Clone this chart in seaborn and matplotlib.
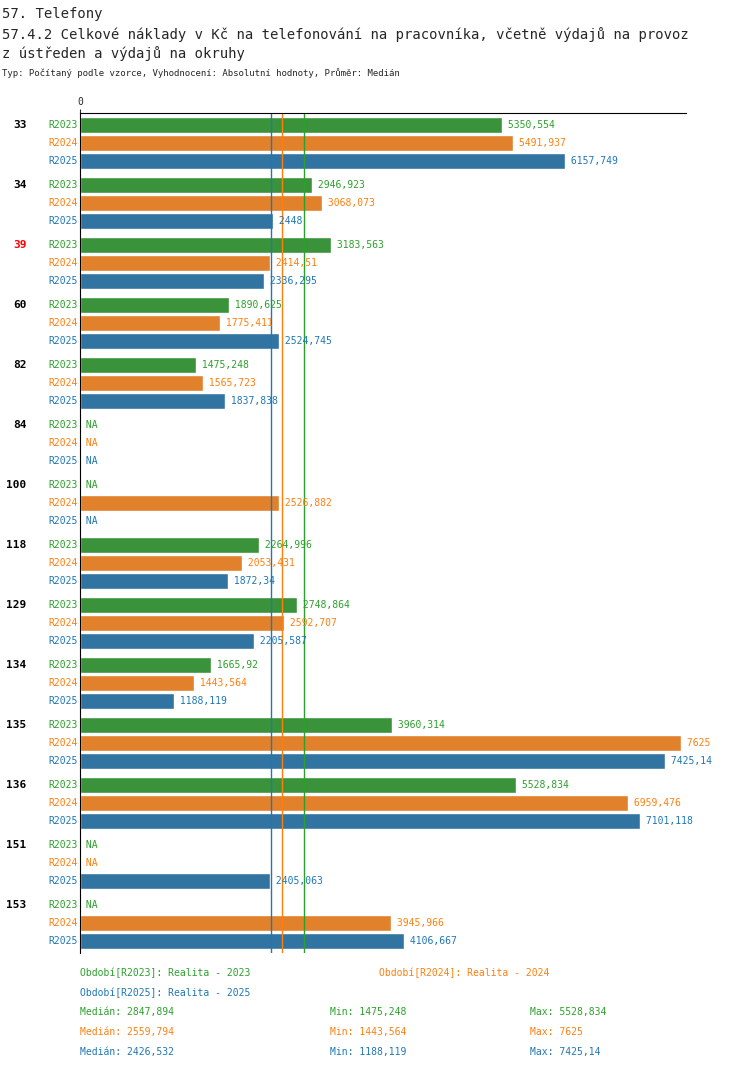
# ======================
# 0. IMPORTS & CONFIG
# ======================
import pandas as pd
import numpy as np
import matplotlib.pyplot as plt
import seaborn as sns

sns.set_style('white')
plt.rcParams['font.family'] = ['DejaVu Sans Mono']

# ======================
# 1. DATA
# ======================
groups = ['33', '34', '39', '60', '82', '84', '100', '118', '129', '134', '135', '136', '151', '153']
periods = ['R2023', 'R2024', 'R2025']
r2023 = [5350.554, 2946.923, 3183.563, 1890.625, 1475.248, np.nan, np.nan, 2264.996, 2748.864, 1665.92, 3960.314, 5528.834, np.nan, np.nan]
r2024 = [5491.937, 3068.073, 2414.51, 1775.411, 1565.723, np.nan, 2526.882, 2053.431, 2592.707, 1443.564, 7625, 6959.476, np.nan, 3945.966]
r2025 = [6157.749, 2448, 2336.295, 2524.745, 1837.838, np.nan, np.nan, 1872.34, 2205.587, 1188.119, 7425.14, 7101.118, 2405.063, 4106.667]
colors = {'R2023': '#2ca02c', 'R2024': '#ff7f0e', 'R2025': '#1f77b4'}
highlight = '39'

df = pd.DataFrame({'group': groups, 'R2023': r2023, 'R2024': r2024, 'R2025': r2025})
df = df.melt(id_vars='group', var_name='period', value_name='value')

def fmt(v):
    return ('%.3f' % v).rstrip('0').rstrip('.').replace('.', ',')

# ======================
# 2. PLOT
# ======================
fig = plt.figure(figsize=(7.5, 10.74), dpi=100)
ax = fig.add_axes([0.1067, 0.1127, 0.808, 0.7821])
sns.barplot(data=df, x='value', y='group', hue='period', order=groups, hue_order=periods,
            palette=colors, orient='h', width=0.9, gap=0.1, legend=False, ax=ax)
ax.set_xlim(0, 7690)
ax.set_ylim(len(groups) - 0.5, -0.5)

# median lines
medians = {p: np.nanmedian(df[df.period == p].value) for p in periods}
for p in periods:
    ax.axvline(medians[p], color=colors[p], lw=1)

# value labels + period labels
offsets = {'R2023': -0.3, 'R2024': 0.0, 'R2025': 0.3}
vals = {'R2023': r2023, 'R2024': r2024, 'R2025': r2025}
for i, g in enumerate(groups):
    ax.text(-0.088, i - 0.3, g, transform=ax.get_yaxis_transform(), ha='right', va='center',
            fontsize=8, fontweight='bold', color='red' if g == highlight else 'black')
    for p in periods:
        y = i + offsets[p]
        v = vals[p][i]
        ax.text(-0.003, y, p, transform=ax.get_yaxis_transform(), ha='right', va='center',
                fontsize=7, color=colors[p])
        label = 'NA' if np.isnan(v) else fmt(v)
        ax.text(0 if np.isnan(v) else v, y, ' ' + label, ha='left', va='center', fontsize=7, color=colors[p])

ax.set_yticks([])
ax.set_ylabel('')
ax.set_xlabel('')
ax.xaxis.tick_top()
ax.set_xticks([0])
ax.tick_params(axis='x', labelsize=7, length=3, pad=1)
for s in ['right', 'bottom']:
    ax.spines[s].set_visible(False)
for s in ['left', 'top']:
    ax.spines[s].set_color('black')

# titles
fig.text(0.003, 0.9935, '57. Telefony', fontsize=10, va='top')
fig.text(0.003, 0.975, '57.4.2 Celkové náklady v Kč na telefonování na pracovníka, včetně výdajů na provoz',
         fontsize=10, va='top')
fig.text(0.003, 0.957, 'z ústředen a výdajů na okruhy', fontsize=10, va='top')
fig.text(0.003, 0.937, 'Typ: Počítaný podle vzorce, Vyhodnocení: Absolutní hodnoty, Průměr: Medián',
         fontsize=6.5, va='top')

# bottom legend
fig.text(0.1067, 0.0915, 'Období[R2023]: Realita - 2023', fontsize=7, color=colors['R2023'])
fig.text(0.505, 0.0915, 'Období[R2024]: Realita - 2024', fontsize=7, color=colors['R2024'])
fig.text(0.1067, 0.073, 'Období[R2025]: Realita - 2025', fontsize=7, color=colors['R2025'])
for k, p in enumerate(periods):
    s = df[df.period == p].value
    yy = 0.0545 - k * 0.0186
    fig.text(0.1067, yy, 'Medián: ' + fmt(medians[p]), fontsize=7, color=colors[p])
    fig.text(0.44, yy, 'Min: ' + fmt(s.min()), fontsize=7, color=colors[p])
    fig.text(0.706, yy, 'Max: ' + fmt(s.max()), fontsize=7, color=colors[p])

plt.savefig('out.png', dpi=100)
